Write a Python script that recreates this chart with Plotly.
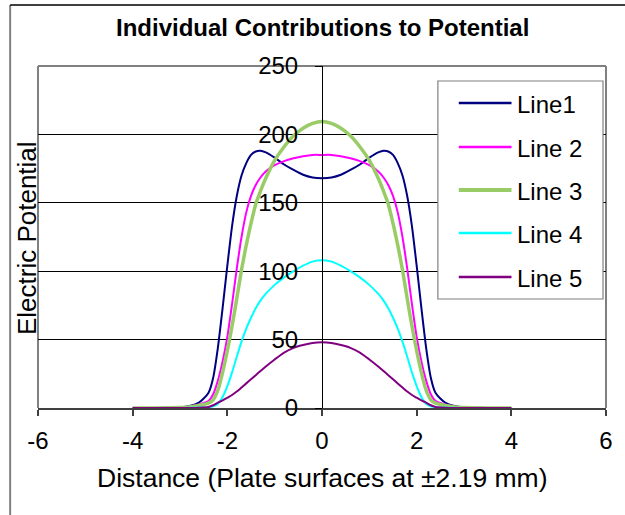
import plotly.graph_objects as go

# ---------------- data ----------------
x_vals = [-4, -3.5, -3, -2.8, -2.6, -2.4, -2.3, -2.2, -2.1, -2.0, -1.9, -1.8, -1.7, -1.6, -1.5,
          -1.4, -1.3, -1.2, -1.0, -0.8, -0.6, -0.4, -0.2, 0,
          0.2, 0.4, 0.6, 0.8, 1.0, 1.2, 1.3, 1.4, 1.5, 1.6, 1.7, 1.8, 1.9, 2.0, 2.1, 2.2, 2.3,
          2.4, 2.6, 2.8, 3, 3.5, 4]

line1 = [0, 0, 0.5, 1.5, 4, 11, 22, 44, 73, 104, 133, 155, 170, 179, 185, 187.5, 188, 187, 183,
         178, 174, 170.5, 168.5, 168,
         168.5, 170.5, 174, 178, 183, 187, 188, 187.5, 185, 179, 170, 155, 133, 104, 73, 44, 22,
         11, 4, 1.5, 0.5, 0, 0]
line2 = [0, 0, 0.3, 1, 2.5, 5, 10, 20, 34, 52, 76, 102, 125, 143, 155, 163, 168.5, 172.5, 177.5,
         180.5, 182.5, 184, 185, 185,
         185, 184, 182.5, 180.5, 177.5, 172.5, 168.5, 163, 155, 143, 125, 102, 76, 52, 34, 20, 10,
         5, 2.5, 1, 0.3, 0, 0]
line3 = [0, 0, 0.3, 0.8, 1.8, 3.5, 6, 13, 26, 42, 60, 80, 101, 119, 135, 149, 158.5, 167, 181,
         191, 199, 204.5, 208, 209.5,
         208, 204.5, 199, 191, 181, 167, 158.5, 149, 135, 119, 101, 80, 60, 42, 26, 13, 6,
         3.5, 1.8, 0.8, 0.3, 0, 0]
line4 = [0, 0, 0, 0.1, 0.3, 0.6, 1.3, 3, 8, 16, 26, 37.5, 48.5, 58, 66, 73, 78.5, 83, 90,
         95.5, 100, 104, 107, 108,
         107, 104, 100, 95.5, 90, 83, 78.5, 73, 66, 58, 48.5, 37.5, 26, 16, 8, 3, 1.3,
         0.6, 0.3, 0.1, 0, 0, 0]
line5 = [0, 0, 0, 0, 0.2, 0.8, 2, 4, 5.5, 7.5, 9.5, 12, 15, 18, 21, 24, 27, 30, 35.5,
         40.5, 44, 46, 47.5, 48,
         47.5, 46, 44, 40.5, 35.5, 30, 27, 24, 21, 18, 15, 12, 9.5, 7.5, 5.5, 4, 2,
         0.8, 0.2, 0, 0, 0, 0]

series_names = ["Line1", "Line 2", "Line 3", "Line 4", "Line 5"]
series_values = [line1, line2, line3, line4, line5]
series_colors = ["#000080", "#FF00FF", "#99CC66", "#00FFFF", "#800080"]
series_widths = [2, 2, 3.5, 2, 2]

x_tickvals = [-6, -4, -2, 0, 2, 4, 6]
x_ticktext = ["-6", "-4", "-2", "0", "2", "4", "6"]
y_tickvals = [0, 50, 100, 150, 200, 250]

title_text = "Individual Contributions to Potential"
x_title = "Distance (Plate surfaces at ±2.19 mm)"
y_title = "Electric Potential"

# ---------------- layout geometry (pixels) ----------------
W, H = 625, 515
PL, PR, PT, PB = 38, 609, 66, 408
FONT = "Liberation Sans, Arial, sans-serif"


def px2x(px):
    return (px - PL) / (PR - PL)


def py2y(py):
    return (PB - py) / (PB - PT)


fig = go.Figure()
for name, vals, col, w in zip(series_names, series_values, series_colors, series_widths):
    fig.add_trace(go.Scatter(x=x_vals, y=vals, mode="lines", name=name,
                             line=dict(color=col, width=w, shape="spline", smoothing=0.7),
                             showlegend=False, hoverinfo="skip"))

shapes = []
annotations = []

# outer chart frame
shapes.append(dict(type="line", xref="paper", yref="paper", x0=px2x(10), x1=px2x(10),
                   y0=py2y(5), y1=py2y(520), line=dict(color="#808080", width=2)))
shapes.append(dict(type="line", xref="paper", yref="paper", x0=px2x(10), x1=px2x(630),
                   y0=py2y(5), y1=py2y(5), line=dict(color="#000000", width=1.5)))
# plot area border
for (x0, y0, x1, y1) in [(PL, PT, PL, PB), (PL, PT, PR, PT), (PR, PT, PR, PB)]:
    shapes.append(dict(type="line", xref="paper", yref="paper", x0=px2x(x0), x1=px2x(x1),
                       y0=py2y(y0), y1=py2y(y1), line=dict(color="#808080", width=2),
                       layer="below"))

# legend box
LX0, LX1, LY0, LY1 = 440, 606, 81, 299
shapes.append(dict(type="rect", xref="paper", yref="paper", x0=px2x(LX0), x1=px2x(LX1),
                   y0=py2y(LY0), y1=py2y(LY1), line=dict(color="#808080", width=1.2),
                   fillcolor="white", layer="above"))
entry_y = [103, 147, 190, 233, 277]
for name, col, w, ey in zip(series_names, series_colors, series_widths, entry_y):
    shapes.append(dict(type="line", xref="paper", yref="paper", x0=px2x(461), x1=px2x(514),
                       y0=py2y(ey), y1=py2y(ey), line=dict(color=col, width=w + 0.5)))
    annotations.append(dict(text=name, xref="paper", yref="paper", x=px2x(518), y=py2y(ey + 1),
                            xanchor="left", yanchor="middle", showarrow=False,
                            font=dict(family=FONT, size=24, color="black")))

# title
annotations.append(dict(text="<b>" + title_text + "</b>", xref="paper", yref="paper",
                        x=px2x(324), y=py2y(28), xanchor="center", yanchor="middle",
                        showarrow=False, font=dict(family=FONT, size=24, color="black")))
# axis titles
annotations.append(dict(text=x_title, xref="paper", yref="paper", x=px2x(324), y=py2y(478),
                        xanchor="center", yanchor="middle", showarrow=False,
                        font=dict(family=FONT, size=26.5, color="black")))
annotations.append(dict(text=y_title, xref="paper", yref="paper", x=px2x(27), y=py2y(238),
                        xanchor="center", yanchor="middle", textangle=-90, showarrow=False,
                        font=dict(family=FONT, size=26, color="black")))

fig.update_layout(
    width=W, height=H,
    margin=dict(l=PL, r=W - PR, t=PT, b=H - PB, pad=0),
    paper_bgcolor="white", plot_bgcolor="white",
    showlegend=False,
    shapes=shapes, annotations=annotations,
    xaxis=dict(range=[-6, 6], tickvals=x_tickvals, ticktext=x_ticktext,
               showgrid=False, zeroline=False, showline=True, linecolor="#404040", linewidth=1.5,
               ticks="outside", ticklen=6, tickcolor="#404040", tickwidth=1.5,
               ticklabelstandoff=4,
               tickfont=dict(family=FONT, size=24, color="black"), fixedrange=True),
    yaxis=dict(range=[0, 250], tickvals=y_tickvals, anchor="free", position=0.5,
               showgrid=True, gridcolor="#000000", gridwidth=1, zeroline=False,
               showline=True, linecolor="#000000", linewidth=1,
               ticks="outside", ticklen=7, tickcolor="#000000", tickwidth=1,
               ticklabelstandoff=12,
               tickfont=dict(family=FONT, size=24, color="black"), fixedrange=True),
)

fig.write_html("out.html")
